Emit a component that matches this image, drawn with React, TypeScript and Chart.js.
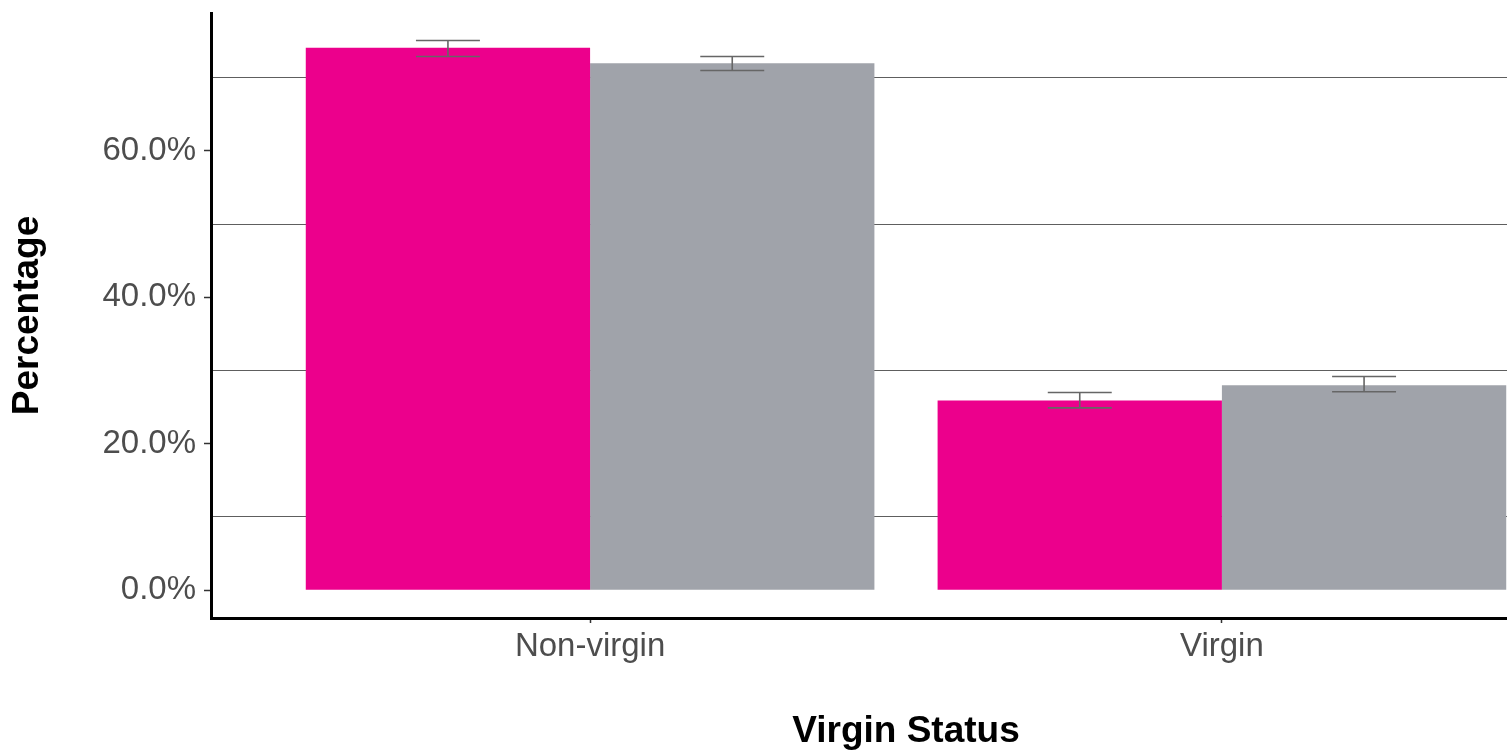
import React, { useEffect, useRef } from "react";
import { Chart, registerables } from "chart.js";

Chart.register(...registerables);

const categories = ["Non-virgin", "Virgin"];
const categoryPositions = [1, 2];
const seriesNames = ["Group 1", "Group 2"];
const pinkValues = [74.1, 25.9];
const pinkLow = [72.9, 24.9];
const pinkHigh = [75.1, 27.0];
const greyValues = [72.0, 28.0];
const greyLow = [71.0, 27.1];
const greyHigh = [72.9, 29.2];
const yTicks = [0, 10, 20, 30, 40, 50, 60, 70];

const PINK = "#EC008C";
const GREY = "#A0A3AA";

const errorLows = [pinkLow, greyLow];
const errorHighs = [pinkHigh, greyHigh];

const errorBarPlugin = {
  id: "errorBars",
  afterDatasetsDraw(chart: any) {
    const ctx = chart.ctx;
    const yScale = chart.scales.y;
    ctx.save();
    ctx.strokeStyle = "#666666";
    ctx.lineWidth = 1.6;
    chart.data.datasets.forEach((_ds: any, di: number) => {
      const meta = chart.getDatasetMeta(di);
      meta.data.forEach((el: any, i: number) => {
        const x = el.x;
        const half = el.width * 0.1125;
        const yLo = yScale.getPixelForValue(errorLows[di][i]);
        const yHi = yScale.getPixelForValue(errorHighs[di][i]);
        ctx.beginPath();
        ctx.moveTo(x - half, yHi);
        ctx.lineTo(x + half, yHi);
        ctx.moveTo(x, yHi);
        ctx.lineTo(x, yLo);
        ctx.moveTo(x - half, yLo);
        ctx.lineTo(x + half, yLo);
        ctx.stroke();
      });
    });
    ctx.restore();
  },
};

export default function App() {
  const ref = useRef<HTMLCanvasElement | null>(null);
  useEffect(() => {
    document.body.style.margin = "0";
    document.body.style.overflow = "hidden";
    const canvas = ref.current;
    if (!canvas) return;
    const fontFamily = "'Liberation Sans', Arial, sans-serif";
    const chart = new Chart(canvas, {
      type: "bar",
      data: {
        datasets: [
          {
            label: seriesNames[0],
            data: categoryPositions.map((x, i) => ({ x, y: pinkValues[i] })),
            backgroundColor: PINK,
            borderWidth: 0,
          },
          {
            label: seriesNames[1],
            data: categoryPositions.map((x, i) => ({ x, y: greyValues[i] })),
            backgroundColor: GREY,
            borderWidth: 0,
          },
        ],
      },
      options: {
        responsive: false,
        animation: false,
        events: [],
        layout: { padding: { top: 13, right: 7, left: 0, bottom: 0 } },
        datasets: { bar: { categoryPercentage: 0.9, barPercentage: 1 } },
        plugins: { legend: { display: false }, tooltip: { enabled: false } },
        scales: {
          x: {
            type: "linear",
            min: 0.4,
            max: 2.6,
            offset: false,
            afterBuildTicks: (scale: any) => {
              scale.ticks = categoryPositions.map((v) => ({ value: v }));
            },
            afterFit: (scale: any) => {
              scale.height = 133;
              scale.paddingLeft = 0;
              scale.paddingRight = 0;
            },
            ticks: {
              callback: (v: any) => {
                const idx = categoryPositions.indexOf(Number(v));
                return idx >= 0 ? categories[idx] : "";
              },
              color: "#4D4D4D",
              font: { family: fontFamily, size: 33 },
              padding: 4,
              maxRotation: 0,
              autoSkip: false,
            },
            grid: {
              offset: false,
              drawOnChartArea: false,
              tickLength: 5,
              tickColor: "#333333",
              tickWidth: 1.5,
            },
            border: { color: "#000000", width: 3 },
            title: {
              display: true,
              text: "Virgin Status",
              color: "#000000",
              font: { family: fontFamily, size: 37, weight: "bold" },
              padding: { top: 0, bottom: -3 },
            },
          },
          y: {
            min: -3.8,
            max: 78.85,
            afterBuildTicks: (scale: any) => {
              scale.ticks = yTicks.map((v) => ({ value: v }));
            },
            afterFit: (scale: any) => {
              scale.width = 211;
              scale.paddingTop = 0;
              scale.paddingBottom = 0;
            },
            ticks: {
              callback: (v: any) => (Number(v) % 20 === 0 ? Number(v).toFixed(1) + "%" : ""),
              color: "#4D4D4D",
              font: { family: fontFamily, size: 33 },
              padding: 8,
              autoSkip: false,
            },
            grid: {
              color: (c: any) =>
                c.tick && c.tick.value % 20 !== 0 ? "#5E5E5E" : "rgba(0,0,0,0)",
              lineWidth: 1,
              tickColor: (c: any) =>
                c.tick && c.tick.value % 20 === 0 ? "#333333" : "rgba(0,0,0,0)",
              tickLength: 7,
              tickWidth: 1.5,
            },
            border: { color: "#000000", width: 3 },
            title: {
              display: true,
              text: "Percentage",
              color: "#000000",
              font: { family: fontFamily, size: 37, weight: "bold" },
              padding: { top: 6, bottom: 0 },
            },
          },
        },
      },
      plugins: [errorBarPlugin],
    } as any);
    return () => chart.destroy();
  }, []);
  return <canvas ref={ref} width={1608} height={751} style={{ display: "block" }} />;
}
